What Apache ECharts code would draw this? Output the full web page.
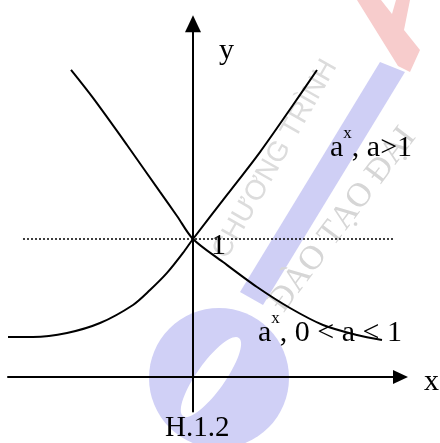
<!DOCTYPE html>
<html><head><meta charset="utf-8">
<script src="https://cdn.jsdelivr.net/npm/echarts@6/dist/echarts.min.js"></script>
<style>html,body{margin:0;padding:0;background:#fff}#c{width:440px;height:443px}</style>
</head><body><div id="c"></div>
<script>
// curve a^x, a>1
const growthX = [-3.7, -3.2, -2.52, -1.86, -1.2, -0.86, -0.52, -0.2, 0, 0.68, 1.34, 2.0, 2.48];
const growthY = [0.29, 0.29, 0.319, 0.391, 0.522, 0.63, 0.754, 0.899, 1, 1.319, 1.63, 1.971, 2.225];
// curve a^x, 0<a<1
const decayX = [-2.44, -2.0, -1.32, -0.66, -0.32, 0, 0.6, 1.28, 1.94, 2.6, 3.28, 3.78];
const decayY = [2.225, 2.022, 1.681, 1.341, 1.167, 1, 0.833, 0.652, 0.5, 0.377, 0.304, 0.268];
// dotted guide at y = 1
const guideX = [-3.4, 4.0];
const guideY = [1, 1];
// texts
const axisNames = ['x', 'y'];
const oneLabel = '1';
const growthLabel = ['a', 'x', ', a>1'];
const decayLabel = ['a', 'x', ', 0 < a < 1'];
const caption = 'H.1.2';
const watermark = ['CHƯƠNG TRÌNH', 'ĐÀO TẠO ĐẠI'];

const zip = (xs, ys) => xs.map((x, i) => [x, ys[i]]);
const SERIF = '"Liberation Serif", "Times New Roman", serif';
const lineS = {color: '#000', width: 2};

function plain(text, left, baseline, size) {
  return {type: 'text', x: left, y: baseline - 0.3375 * size, z: 100,
    style: {text: text, font: size + 'px ' + SERIF, fill: '#000', align: 'left', verticalAlign: 'middle'}};
}
function supText(parts, left, baseline) {
  const aW = 0.444 * 30, sW = 0.5 * 17;
  return [
    plain(parts[0], left, baseline, 30),
    plain(parts[1], left + aW, baseline - 19, 17),
    plain(parts[2], left + aW + sW, baseline, 30)
  ];
}

const chart = echarts.init(document.getElementById('c'), null, {renderer: 'canvas'});
chart.setOption({
  animation: false,
  backgroundColor: '#fff',
  grid: {left: 8, right: 39.5, top: 23.72, bottom: 31.5, containLabel: false},
  xAxis: {type: 'value', min: -3.7, max: 4.15,
    axisLine: {show: true, onZero: true, symbol: ['none', 'triangle'], symbolSize: [14, 15], lineStyle: lineS},
    axisTick: {show: false}, axisLabel: {show: false}, splitLine: {show: false}},
  yAxis: {type: 'value', min: -0.25, max: 2.56,
    axisLine: {show: true, onZero: true, symbol: ['none', 'triangle'], symbolSize: [16, 17], lineStyle: lineS},
    axisTick: {show: false}, axisLabel: {show: false}, splitLine: {show: false}},
  series: [
    {type: 'line', data: zip(guideX, guideY), showSymbol: false, symbol: 'none', silent: true,
      lineStyle: {color: '#000', width: 1.3, type: [2, 2]}},
    {type: 'line', data: zip(growthX, growthY), smooth: 0.3, showSymbol: false, symbol: 'none',
      lineStyle: {color: '#000', width: 2}},
    {type: 'line', data: zip(decayX, decayY), smooth: 0.3, showSymbol: false, symbol: 'none',
      lineStyle: {color: '#000', width: 2}}
  ],
  graphic: [
    // faint watermark
    {type: 'polygon', z: -10, shape: {points: [[357, 0], [381, 0], [392, 14], [396, 0], [410, 0], [404, 30], [420, 50], [410, 72], [398, 66]]},
      style: {fill: '#f7cccc'}},
    {type: 'polygon', z: -10, shape: {points: [[380, 62], [405, 72], [263, 305], [240, 292]]},
      style: {fill: '#cfcff5'}},
    {type: 'circle', z: -10, shape: {cx: 219, cy: 378, r: 70}, style: {fill: '#d0d0f6'}},
    {type: 'ellipse', z: -9, x: 211, y: 377, rotation: -0.62, shape: {cx: 0, cy: 0, rx: 14, ry: 48},
      style: {fill: '#fff'}},
    {type: 'text', z: -8, x: 232, y: 263, rotation: 60.3 * Math.PI / 180,
      style: {text: watermark[0], font: '28px "Liberation Sans", sans-serif', fill: '#dcdcdc', align: 'left', verticalAlign: 'bottom'}},
    {type: 'text', z: -8, x: 290, y: 318, rotation: 53 * Math.PI / 180,
      style: {text: watermark[1], font: '34px ' + SERIF, fill: '#d6d6d6', align: 'left', verticalAlign: 'bottom'}},
    // labels
    plain(axisNames[1], 219, 61, 30),
    plain(axisNames[0], 424, 392, 30),
    plain(oneLabel, 211, 256, 30),
    plain(caption, 165, 438, 29)
  ].concat(supText(growthLabel, 330, 158), supText(decayLabel, 258, 343))
});
</script></body></html>
